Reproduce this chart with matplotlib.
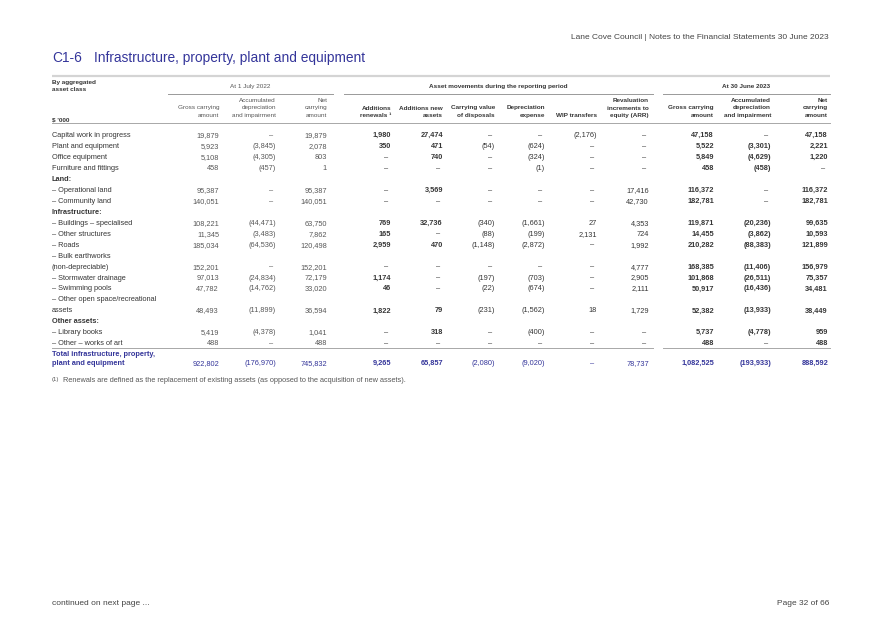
import matplotlib
matplotlib.use("Agg")
import matplotlib.pyplot as plt

plt.rcParams['font.family'] = ['Liberation Sans', 'DejaVu Sans']

# ---------------- data ----------------
categories = ["Capital work in progress", "Plant and equipment", "Office equipment",
              "Furniture and fittings", "– Operational land", "– Community land",
              "– Buildings – specialised", "– Other structures", "– Roads",
              "– Bulk earthworks\n(non-depreciable)", "– Stormwater drainage",
              "– Swimming pools", "– Other open space/recreational\nassets",
              "– Library books", "– Other – works of art"]
# heading label -> index of the category it precedes
group_headings = {"Land:": 4, "Infrastructure:": 6, "Other assets:": 13}

gross_2022 = [19879, 5923, 5108, 458, 95387, 140051, 108221, 11345, 185034, 152201, 97013, 47782, 48493, 5419, 488]
accum_2022 = [None, -3845, -4305, -457, None, None, -44471, -3483, -64536, None, -24834, -14762, -11899, -4378, None]
net_2022 = [19879, 2078, 803, 1, 95387, 140051, 63750, 7862, 120498, 152201, 72179, 33020, 36594, 1041, 488]
add_renewals = [1980, 350, None, None, None, None, 769, 165, 2959, None, 1174, 46, 1822, None, None]
add_new = [27474, 471, 740, None, 3569, None, 32736, None, 470, None, None, None, 79, 318, None]
disposals = [None, -54, None, None, None, None, -340, -88, -1148, None, -197, -22, -231, None, None]
depreciation = [None, -624, -324, -1, None, None, -1661, -199, -2872, None, -703, -674, -1562, -400, None]
wip_transfers = [-2176, None, None, None, None, None, 27, 2131, None, None, None, None, 18, None, None]
revaluation = [None, None, None, None, 17416, 42730, 4353, 724, 1992, 4777, 2905, 2111, 1729, None, None]
gross_2023 = [47158, 5522, 5849, 458, 116372, 182781, 119871, 14455, 210282, 168385, 101868, 50917, 52382, 5737, 488]
accum_2023 = [None, -3301, -4629, -458, None, None, -20236, -3862, -88383, -11406, -26511, -16436, -13933, -4778, None]
net_2023 = [47158, 2221, 1220, None, 116372, 182781, 99635, 10593, 121899, 156979, 75357, 34481, 38449, 959, 488]
totals = [922802, -176970, 745832, 9265, 65857, -2080, -9020, None, 78737, 1082525, -193933, 888592]

column_headers = ["Gross carrying\namount", "Accumulated\ndepreciation\nand impairment", "Net\ncarrying\namount",
                  "Additions\nrenewals ¹", "Additions new\nassets", "Carrying value\nof disposals",
                  "Depreciation\nexpense", "WIP transfers", "Revaluation\nincrements to\nequity (ARR)",
                  "Gross carrying\namount", "Accumulated\ndepreciation\nand impairment", "Net\ncarrying\namount"]
group_titles = ["At 1 July 2022", "Asset movements during the reporting period", "At 30 June 2023"]
total_label = "Total infrastructure, property,\nplant and equipment"
footnote = "Renewals are defined as the replacement of existing assets (as opposed to the acquisition of new assets)."

columns = [gross_2022, accum_2022, net_2022, add_renewals, add_new, disposals,
           depreciation, wip_transfers, revaluation, gross_2023, accum_2023, net_2023]

# ---------------- layout ----------------
W, H = 882, 626
fig = plt.figure(figsize=(W / 100, H / 100), dpi=100)
ax = fig.add_axes([0, 0, 1, 1])
ax.set_xlim(0, W)
ax.set_ylim(H, 0)
ax.axis("off")

BLUE = "#34359a"
DARK = "#363636"
GREY = "#585858"
LINE = "#a8a8a8"
BODY = 5.3
HEAD = 4.6

col_right = [219, 276, 327, 391, 443, 495, 545, 597, 649, 714, 771, 828]
col_bold = [False, False, False, True, True, False, False, False, False, True, True, True]
col_color = [GREY, GREY, GREY, DARK, DARK, DARK, DARK, DARK, DARK, DARK, DARK, DARK]
LEFT, RIGHT = 52, 830


def txt(x, y, s, size=BODY, ha="left", bold=False, color=DARK, **kw):
    # y is the visual centre of capital letters / digits
    base = y + 0.36 * size * 100 / 72
    ax.text(x, base, s, fontsize=size, ha=ha, va="baseline", color=color,
            fontweight="bold" if bold else "normal", **kw)


def fmt(v):
    if v is None:
        return "–"
    if v < 0:
        return "({:,})".format(-v)
    return "{:,}".format(v)


def put_value(x, y, v, bold, color):
    s = fmt(v)
    if v is None:
        txt(x - 3, y, s, ha="right", bold=False, color=color)
    else:
        txt(x, y, s, ha="right", bold=bold, color=color)


# running header & title
txt(829, 36, "Lane Cove Council | Notes to the Financial Statements 30 June 2023", size=6.0, ha="right", color="#444444")
txt(52, 57, "C1-6", size=9.9, color=BLUE)
txt(94, 57, "Infrastructure, property, plant and equipment", size=9.9, color=BLUE)

# table header
ax.plot([LEFT, RIGHT], [76, 76], color="#d4d4d4", lw=1.6, solid_capstyle="butt")
txt(LEFT, 82, "By aggregated", size=HEAD, bold=True)
txt(LEFT, 89, "asset class", size=HEAD, bold=True)
group_spans = [(168, 333), (344, 653), (663, RIGHT)]
for (a, b), t, bld in zip(group_spans, group_titles, [False, True, True]):
    txt((a + b) / 2, 86, t, size=HEAD, ha="center", bold=bld, color=GREY if not bld else DARK)
    ax.plot([a, b], [94, 94], color="#999999", lw=0.7)

for x, h, c in zip(col_right, column_headers, col_color):
    lines = h.split("\n")
    n = len(lines)
    for i, ln in enumerate(lines):
        y = 115 - (n - 1 - i) * 7.8
        txt(x, y, ln, size=HEAD, ha="right", bold=(x > 330), color=c)
txt(LEFT, 119, "$ '000", size=HEAD, bold=True)
ax.plot([LEFT, RIGHT], [123, 123], color=LINE, lw=0.7)

# body rows
Y0, DY = 134.5, 10.95
slot = 0
for i, cat in enumerate(categories):
    for hd, idx in group_headings.items():
        if idx == i:
            txt(LEFT, Y0 + slot * DY, hd, bold=True)
            slot += 1
    lines = cat.split("\n")
    for j, ln in enumerate(lines):
        txt(LEFT, Y0 + (slot + j) * DY, ln)
    yv = Y0 + (slot + len(lines) - 1) * DY
    for x, col, bld, c in zip(col_right, columns, col_bold, col_color):
        put_value(x, yv, col[i], bld, c)
    slot += len(lines)

# total
y_line = Y0 + (slot - 1) * DY + 5.5
ax.plot([LEFT, 653], [y_line, y_line], color=LINE, lw=0.7)
ax.plot([663, RIGHT], [y_line, y_line], color=LINE, lw=0.7)
tl = total_label.split("\n")
txt(LEFT, y_line + 5, tl[0], bold=True, color=BLUE)
txt(LEFT, y_line + 14.5, tl[1], bold=True, color=BLUE)
for x, v, bld in zip(col_right, totals, col_bold):
    put_value(x, y_line + 14.5, v, bld, BLUE)

# footnote
txt(LEFT, y_line + 31, "(1)", size=4.4, color=GREY)
txt(63, y_line + 31, footnote, size=5.35, color=GREY)

# footer
txt(LEFT, 602, "continued on next page ...", size=6.0, color="#444444")
txt(829, 602, "Page 32 of 66", size=6.0, ha="right", color="#444444")

fig.savefig("out.png", dpi=100)
